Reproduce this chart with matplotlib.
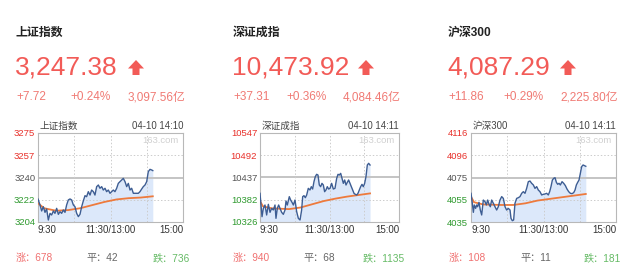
import numpy as np
import matplotlib
matplotlib.use("Agg")
import matplotlib.pyplot as plt
from matplotlib.patches import Polygon

plt.rcParams['font.family'] = ['Liberation Sans', 'Noto Sans CJK SC', 'DejaVu Sans']

# ---------------- data ----------------
names = ["上证指数", "深证成指", "沪深300"]
prices = ["3,247.38", "10,473.92", "4,087.29"]
changes = ["+7.72", "+37.31", "+11.86"]
pcts = ["+0.24%", "+0.36%", "+0.29%"]
amounts = ["3,097.56亿", "4,084.46亿", "2,225.80亿"]
stamps = ["04-10 14:10", "04-10 14:11", "04-10 14:11"]
ups = [678, 940, 108]
flats = [42, 68, 11]
downs = [736, 1135, 181]
ytick_labels = [["3204", "3222", "3240", "3257", "3275"],
                ["10326", "10382", "10437", "10492", "10547"],
                ["4035", "4055", "4075", "4096", "4116"]]
y_ranges = [(3204, 3275), (10326, 10547), (4035, 4116)]
xtick_labels = ["9:30", "11:30/13:00", "15:00"]

sh_t = [0, 3.3, 6.1, 8.8, 11.6, 14.3, 17.1, 19.9, 22.6, 25.4, 28.1, 30.9, 33.7, 36.4, 39.2,
        41.9, 44.7, 47.4, 50.2, 53.0, 55.7, 58.5, 61.2, 64.0, 66.8, 69.5, 72.3, 75.0, 77.8,
        80.5, 83.3, 86.1, 88.8, 91.6, 94.3, 97.1, 99.9, 102.6, 105.4, 108.1, 110.9, 113.6,
        116.4, 119.2, 121.9, 124.7, 127.4, 130.2, 132.9, 135.7, 138.5, 141.2, 144.0, 146.8,
        149.5, 152.3, 155.0, 157.8, 160.6, 163.3, 166.1, 168.8, 171.6, 174.3, 177.1, 179.9,
        182.6, 185.4, 188.1, 190.0]
sh_p = [3222.3, 3217.6, 3212.8, 3216.2, 3211.7, 3214.4, 3205.6, 3210.9, 3209.6, 3212.8,
        3210.9, 3214.9, 3210.1, 3212.2, 3210.9, 3213.6, 3211.7, 3217.6, 3221.6, 3222.4,
        3221.6, 3217.6, 3216.2, 3210.9, 3208.3, 3210.1, 3216.2, 3220.8, 3225.0, 3224.2,
        3228.2, 3225.5, 3229.5, 3228.2, 3225.5, 3232.2, 3233.5, 3230.9, 3232.2, 3229.5,
        3230.9, 3228.2, 3229.5, 3226.9, 3228.2, 3229.5, 3228.2, 3230.9, 3234.8, 3236.2,
        3237.5, 3238.8, 3236.2, 3232.2, 3234.8, 3229.5, 3230.9, 3226.9, 3226.9, 3226.9,
        3226.9, 3228.2, 3230.3, 3232.2, 3233.5, 3236.2, 3244.2, 3246.0, 3245.5, 3245.0]
sh_avg_t = [0, 10, 30, 50, 70, 90, 110, 130, 150, 170, 190]
sh_avg = [3219, 3215, 3213, 3213.5, 3215, 3217.5, 3220, 3222, 3223, 3223.5, 3224.5]

sz_t = [0, 1.7, 3.5, 5.8, 8.6, 11.5, 14.4, 17.3, 20.1, 23.0, 25.9, 27.6, 29.9, 32.2, 34.5,
        37.4, 40.3, 43.2, 44.9, 47.2, 50.6, 52.9, 55.3, 57.6, 60.4, 63.3, 66.2, 69.1, 71.9,
        73.7, 75.9, 78.3, 80.6, 83.4, 86.3, 88.6, 90.9, 93.2, 95.5, 97.8, 100.1, 102.4,
        104.7, 107.0, 109.3, 111.6, 113.9, 116.2, 118.5, 120.9, 123.7, 126.6, 129.5, 132.4,
        134.7, 137.0, 139.3, 141.6, 143.9, 146.2, 148.5, 150.8, 153.0, 155.4, 157.7, 160.0,
        162.3, 164.6, 166.9, 169.2, 171.5, 173.8, 176.1, 178.4, 180.7, 183.0, 185.3, 187.6,
        190.0]
sz_v = [205, 240, 275, 250, 240, 270, 238, 262, 250, 255, 240, 280, 250, 240, 250, 262, 268,
        255, 228, 240, 215, 225, 232, 240, 225, 260, 280, 285, 255, 215, 212, 218, 210, 190,
        195, 185, 192, 170, 155, 148, 150, 180, 185, 175, 180, 200, 195, 185, 192, 190, 175,
        192, 190, 160, 148, 150, 145, 160, 175, 165, 180, 172, 165, 175, 185, 195, 205, 208,
        210, 205, 195, 185, 178, 185, 175, 155, 120, 115, 120]
sz_p = [round(10547 - (v - 24) * 0.8277, 1) for v in sz_v]
sz_avg_t = [0, 5, 20, 50, 70, 90, 110, 130, 150, 170, 190]
sz_avg = [10378, 10365, 10360, 10358, 10362, 10370, 10378, 10384, 10389, 10393, 10397]

hs_t = [0, 2.2, 3.9, 5.5, 7.7, 9.4, 11.0, 13.2, 15.4, 17.7, 20.4, 23.2, 25.4, 27.6, 29.8,
        32.0, 34.2, 37.0, 39.7, 42.5, 45.2, 48.0, 50.8, 53.5, 56.3, 59.0, 61.8, 64.6, 66.2,
        68.4, 70.6, 72.8, 75.6, 78.3, 81.1, 83.9, 86.6, 89.4, 92.1, 94.9, 97.6, 100.4, 103.2,
        105.9, 108.7, 111.4, 114.2, 117.0, 119.7, 122.5, 125.2, 128.0, 130.2, 132.4, 134.7,
        136.9, 139.1, 141.3, 143.5, 145.7, 147.9, 150.7, 153.4, 156.2, 158.9, 161.7, 164.5,
        167.2, 170.0, 172.2, 174.4, 176.6, 178.8, 181.0, 183.2, 185.5, 190.0]
hs_v = [205, 235, 262, 240, 250, 240, 245, 232, 255, 270, 225, 230, 240, 225, 238, 245, 225,
        235, 245, 255, 245, 225, 215, 220, 245, 255, 250, 255, 280, 287, 285, 235, 220, 218,
        215, 205, 200, 205, 190, 170, 168, 175, 180, 190, 185, 195, 200, 210, 208, 207, 205,
        210, 200, 185, 165, 160, 158, 172, 178, 175, 180, 170, 175, 182, 192, 200, 205, 206,
        203, 195, 180, 172, 165, 145, 125, 120, 124]
hs_p = [round(4116 - (v - 24) * 0.3034, 1) for v in hs_v]
hs_avg_t = [0, 5, 20, 50, 70, 90, 110, 130, 150, 170, 190]
hs_avg = [4058, 4053, 4051, 4050.5, 4050.5, 4052, 4054.5, 4056, 4057.5, 4059, 4060.5]

series = [(sh_t, sh_p, sh_avg_t, sh_avg), (sz_t, sz_p, sz_avg_t, sz_avg),
          (hs_t, hs_p, hs_avg_t, hs_avg)]

# ---------------- layout (pixels) ----------------
W, H = 640, 279
fig = plt.figure(figsize=(W / 100, H / 100), dpi=100)
fig.patch.set_facecolor("white")


def fx(x):
    return x / W


def fy(y):
    return 1 - y / H


head_x = [16, 233, 448]
sub_dx = [(0, 54, 112), (0, 53, 110), (0, 55, 112)]
arrow_x = [128, 358, 560]
box_lr = [(38, 183), (260, 399), (471, 616)]
box_tb = (133, 222)
bottom_x = [(16, 86, 153), (233, 303, 363), (449, 520, 584)]

RED_BIG = "#f25b57"
RED_SUB = "#f07a74"
RED_LBL = "#e8302a"
GREEN_LBL = "#2f9a2f"
GRAY_LBL = "#555555"

for i in range(3):
    hx = head_x[i]
    fig.text(fx(hx), fy(36), names[i], fontsize=8.6, fontweight="bold", color="#222222",
             ha="left", va="baseline")
    fig.text(fx(hx - 1), fy(75), prices[i], fontsize=19, color=RED_BIG, ha="left", va="baseline")
    ax0 = arrow_x[i]
    arrow = Polygon([[fx(ax0), fy(68.5)], [fx(ax0 + 8), fy(60)], [fx(ax0 + 16), fy(68.5)],
                     [fx(ax0 + 11.5), fy(68.5)], [fx(ax0 + 11.5), fy(75)],
                     [fx(ax0 + 4.5), fy(75)], [fx(ax0 + 4.5), fy(68.5)]],
                    closed=True, transform=fig.transFigure, facecolor=RED_BIG,
                    edgecolor="none")
    fig.patches.append(arrow)
    d = sub_dx[i]
    fig.text(fx(hx + d[0]), fy(100), changes[i], fontsize=8.5, color=RED_SUB, ha="left", va="baseline")
    fig.text(fx(hx + d[1]), fy(100), pcts[i], fontsize=8.5, color=RED_SUB, ha="left", va="baseline")
    fig.text(fx(hx + d[2]), fy(100), amounts[i], fontsize=8.5, color=RED_SUB, ha="left", va="baseline")

    # chart
    l, r = box_lr[i]
    t, b = box_tb
    ax = fig.add_axes([fx(l), fy(b), (r - l) / W, (b - t) / H])
    tt, pp, at, av = series[i]
    lo, hi = y_ranges[i]
    ax.set_xlim(0, 240)
    ax.set_ylim(lo, hi)
    ax.fill_between(tt, pp, lo, color="#dce8fa", lw=0, zorder=1)
    ax.plot(tt, pp, color="#3d5d93", lw=1.0, zorder=4)
    ax.plot(at, av, color="#ee7a3c", lw=1.3, zorder=3)

    yt = np.linspace(lo, hi, 5)
    ax.set_yticks(yt)
    ax.set_yticklabels(ytick_labels[i], fontsize=6.8)
    cols = [GREEN_LBL, GREEN_LBL, GRAY_LBL, RED_LBL, RED_LBL]
    for lab, c in zip(ax.get_yticklabels(), cols):
        lab.set_color(c)
    for k, yv in enumerate(yt[1:4]):
        if k == 1:
            ax.axhline(yv, color="#c4c4c4", lw=1.4, zorder=2)
        else:
            ax.axhline(yv, color="#cccccc", lw=0.7, ls=(0, (1.5, 2)), zorder=2)
    for xv in (60, 120, 180):
        ax.axvline(xv, color="#cccccc", lw=0.7, ls=(0, (1.5, 2)), zorder=2)

    ax.set_xticks([0, 120, 240])
    ax.set_xticklabels(xtick_labels, fontsize=7, color="#333333")
    xl = ax.get_xticklabels()
    xl[0].set_ha("left")
    xl[2].set_ha("right")
    ax.tick_params(length=0, pad=2)
    for s in ax.spines.values():
        s.set_color("#b8b8b8")
        s.set_linewidth(0.8)
    ax.set_zorder(1)

    ax.text(0.012, 1.025, names[i], transform=ax.transAxes, fontsize=6.9, color="#444444",
            ha="left", va="bottom")
    ax.text(1.0, 1.025, stamps[i], transform=ax.transAxes, fontsize=6.9, color="#444444",
            ha="right", va="bottom")
    ax.text(0.97, 0.92, "163.com", transform=ax.transAxes, fontsize=6.8, color="#d0d0d0",
            ha="right", va="center")

    bx = bottom_x[i]
    fig.text(fx(bx[0]), fy(261), f"涨：{ups[i]}", fontsize=7.3, color="#f07070", ha="left", va="baseline")
    fig.text(fx(bx[1]), fy(261), f"平：{flats[i]}", fontsize=7.3, color="#666666", ha="left", va="baseline")
    fig.text(fx(bx[2]), fy(261), f"跌：{downs[i]}", fontsize=7.3, color="#66bb66", ha="left", va="baseline")

fig.savefig("out.png", dpi=100, facecolor="white")
